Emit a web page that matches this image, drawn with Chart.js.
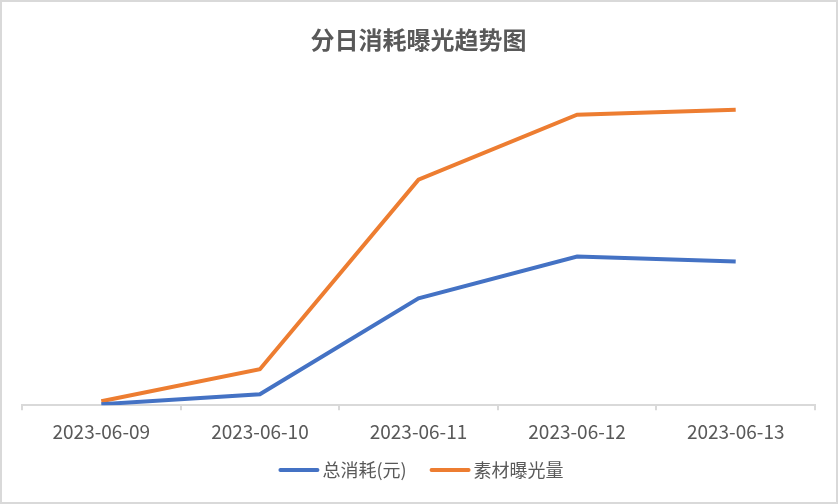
<!DOCTYPE html>
<html>
<head>
<meta charset="utf-8">
<script src="https://cdn.jsdelivr.net/npm/chart.js@4.4.1/dist/chart.umd.min.js"></script>
<style>
html,body{margin:0;padding:0;background:#fff;}
#wrap{width:838px;height:504px;position:relative;}
canvas{display:block;}
</style>
</head>
<body>
<div id="wrap"><canvas id="c" width="838" height="504"></canvas></div>
<script>
const categories = ['2023-06-09','2023-06-10','2023-06-11','2023-06-12','2023-06-13'];
const seriesNames = ['总消耗(元)','素材曝光量'];
const costValues = [1, 11, 107, 149, 144];
const exposureValues = [4, 36, 226, 291, 296];
const titleText = '分日消耗曝光趋势图';

const FONT = "'Noto Sans CJK SC', 'Microsoft YaHei', sans-serif";

const framePlugin = {
  id: 'frame',
  beforeDraw(chart) {
    const ctx = chart.ctx;
    ctx.save();
    ctx.fillStyle = '#ffffff';
    ctx.fillRect(0, 0, chart.width, chart.height);
    ctx.strokeStyle = '#d9d9d9';
    ctx.lineWidth = 2;
    ctx.strokeRect(1, 1, chart.width - 2, chart.height - 2);
    ctx.restore();
  }
};

// Legend drawn from the chart's own datasets
const bottomLegend = {
  id: 'bottomLegend',
  afterDraw(chart) {
    const ctx = chart.ctx;
    const lineW = 41, gapText = 3, gapItem = 23, cy = 470;
    ctx.save();
    ctx.font = '18px ' + FONT;
    const items = chart.data.datasets.map(d => ({label: d.label, color: d.borderColor, w: ctx.measureText(d.label).width}));
    let total = 0;
    items.forEach((it, i) => { total += lineW + gapText + it.w + (i ? gapItem : 0); });
    let x = chart.width / 2 - total / 2 + 2;
    items.forEach((it, i) => {
      if (i) x += gapItem;
      ctx.strokeStyle = it.color;
      ctx.lineWidth = 4;
      ctx.lineCap = 'round';
      ctx.beginPath();
      ctx.moveTo(x + 2, cy);
      ctx.lineTo(x + lineW - 2, cy);
      ctx.stroke();
      x += lineW + gapText;
      ctx.fillStyle = '#595959';
      ctx.textBaseline = 'middle';
      ctx.textAlign = 'left';
      ctx.fillText(it.label, x, cy);
      x += it.w;
    });
    ctx.restore();
  }
};

new Chart(document.getElementById('c'), {
  type: 'line',
  data: {
    labels: categories,
    datasets: [
      {label: seriesNames[0], data: costValues, borderColor: '#4472C4', backgroundColor: '#4472C4', borderWidth: 4, pointRadius: 0, tension: 0},
      {label: seriesNames[1], data: exposureValues, borderColor: '#ED7D31', backgroundColor: '#ED7D31', borderWidth: 4, pointRadius: 0, tension: 0}
    ]
  },
  options: {
    responsive: false,
    animation: false,
    layout: {padding: {left: 22, right: 23, top: 0, bottom: 51}},
    plugins: {
      title: {display: true, text: titleText, color: '#595959', font: {family: FONT, size: 24, weight: 'bold'}, padding: {top: 25, bottom: 22}},
      legend: {display: false},
      tooltip: {enabled: false}
    },
    scales: {
      x: {
        offset: true,
        grid: {offset: true, drawOnChartArea: false, drawTicks: true, tickLength: 5, color: '#d9d9d9', lineWidth: 2},
        border: {color: '#d9d9d9', width: 2},
        ticks: {color: '#595959', font: {family: FONT, size: 19}, padding: 10, maxRotation: 0}
      },
      y: {display: false, min: 0, max: 330}
    }
  },
  plugins: [framePlugin, bottomLegend]
});
</script>
</body>
</html>
